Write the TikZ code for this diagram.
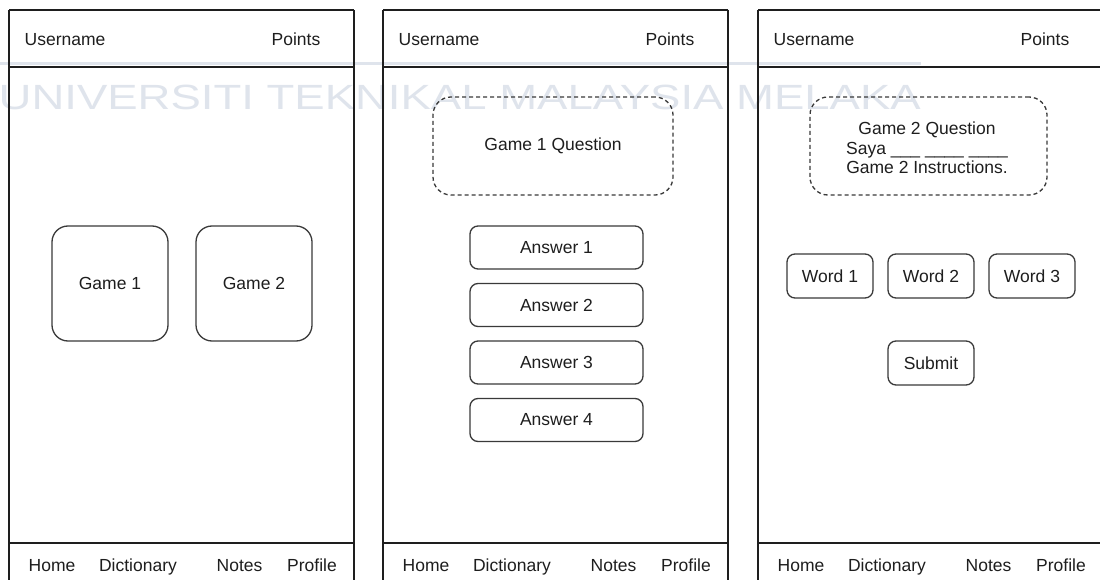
\documentclass[tikz,border=0pt]{standalone}
\usepackage{fontspec}
\setmainfont{Liberation Sans}
\definecolor{ink}{HTML}{1E1E1E}
\definecolor{edge}{HTML}{3A3A3A}
\definecolor{wmark}{HTML}{DFE4EC}
\tikzset{
  label text/.style={inner sep=0pt, text=ink, font=\fontsize{17.5}{20}\selectfont},
  frame/.style={draw=ink, line width=1.4pt},
  roundbox/.style={draw=edge, line width=1.3pt, rounded corners=8pt, inner sep=0pt,
    text=ink, font=\fontsize{17.5}{20}\selectfont, align=center},
  gamebox/.style={roundbox, rounded corners=16pt, minimum width=116pt, minimum height=115pt},
  answerbox/.style={roundbox, minimum width=173pt, minimum height=43pt},
  wordbox/.style={roundbox, minimum width=86pt, minimum height=44pt},
  questionbox/.style={roundbox, dash pattern=on 4pt off 3pt, rounded corners=18pt,
    minimum height=98pt},
}
% One phone screen: frame, header bar and navigation bar
\newcommand\phonescreen[2]{%
  \draw[frame] (#2,10) -- ++(345,0);
  \draw[frame] (#2,10) -- ++(0,600);
  \draw[frame] (#2+345,10) -- ++(0,600);
  \draw[frame] (#2,67) -- ++(345,0);
  \draw[frame] (#2,543) -- ++(345,0);
  \node[label text, anchor=base west] (#1-user) at (#2+15.5,46) {Username};
  \node[label text, anchor=base east] (#1-points) at (#2+311.5,46) {Points};
  \node[label text, anchor=base] (#1-home) at (#2+43,571) {Home};
  \node[label text, anchor=base] (#1-dict) at (#2+129,571) {Dictionary};
  \node[label text, anchor=base] (#1-notes) at (#2+230.5,571) {Notes};
  \node[label text, anchor=base] (#1-profile) at (#2+303,571) {Profile};
}
\begin{document}
\begin{tikzpicture}[x=1pt, y=-1pt]
  \useasboundingbox (0,0) rectangle (1100,580);
  \fill[white] (0,0) rectangle (1100,580);
  \clip (0,0) rectangle (1100,580);

  % faint background seal
  \fill[wmark] (0,62) rectangle (921,65.5);
  \node[inner sep=0pt, anchor=base east, text=wmark, xscale=1.3,
        font=\fontsize{35}{40}\selectfont] (seal) at (921,110)
        {UNIVERSITI TEKNIKAL MALAYSIA MELAKA};

  % screens
  \phonescreen{home}{9}
  \phonescreen{quiz}{383}
  \phonescreen{fill}{758}

  % home screen
  \node[gamebox] (game1) at (110,283.5) {Game 1};
  \node[gamebox] (game2) at (254,283.5) {Game 2};

  % game 1 screen
  \node[questionbox, minimum width=240pt] (q1) at (553,146) {Game 1 Question};
  \node[answerbox] (a1) at (556.5,247.5) {Answer 1};
  \node[answerbox] (a2) at (556.5,305) {Answer 2};
  \node[answerbox] (a3) at (556.5,362.5) {Answer 3};
  \node[answerbox] (a4) at (556.5,420) {Answer 4};

  % game 2 screen
  \node[questionbox, minimum width=237pt] (q2) at (928.5,146) {};
  \node[label text, align=center, font=\fontsize{17.5}{19.5}\selectfont] (q2text) at (927,148)
        {Game 2 Question\\Saya \_\_\_ \_\_\_\_ \_\_\_\_\\Game 2 Instructions.};
  \node[wordbox] (w1) at (830,276) {Word 1};
  \node[wordbox] (w2) at (931,276) {Word 2};
  \node[wordbox] (w3) at (1032,276) {Word 3};
  \node[wordbox] (submit) at (931,363) {Submit};
\end{tikzpicture}
\end{document}
